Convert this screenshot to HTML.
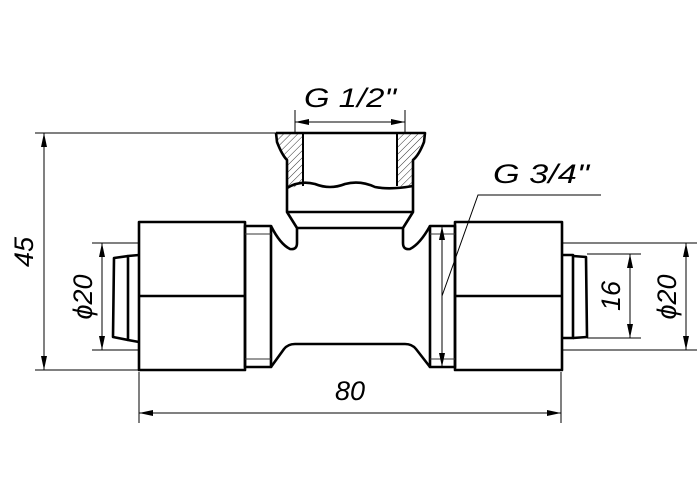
<!DOCTYPE html>
<html><head><style>html,body{margin:0;padding:0;background:#fff}svg{display:block}</style></head><body>
<svg width="700" height="500" viewBox="0 0 700 500" xmlns="http://www.w3.org/2000/svg">
<defs>
<pattern id="h" width="5" height="5" patternUnits="userSpaceOnUse" patternTransform="rotate(45)">
<line x1="0" y1="0" x2="0" y2="5" stroke="#000" stroke-width="0.8"/></pattern>
<marker id="a" viewBox="0 0 14 6" refX="14" refY="3" markerWidth="14" markerHeight="6" markerUnits="userSpaceOnUse" orient="auto-start-reverse"><path d="M0,0 L14,3 L0,6 Z" fill="#000"/></marker>
</defs>
<g fill="none" stroke="#000">
<!-- hatch -->
<path d="M276,133 L303,133 L303,186 L287,188 L287,160 Q281,155 280,146 Z" fill="url(#h)" stroke="none"/>
<path d="M425,133 L397,133 L397,186 L413,188 L413,160 Q419,155 420,146 Z" fill="url(#h)" stroke="none"/>
<g stroke-width="2.6" stroke-linejoin="round">
<!-- top branch outline -->
<path d="M276,133 L425,133 L424,142 Q419,155 413,160 L413,212 L403,228 L403,243 Q403,250 410,249 Q420,244 430,226"/>
<path d="M276,133 L277,142 Q282,155 287,160 L287,212 L297,228 L297,243 Q297,250 290,249 Q280,244 271,226"/>
<line x1="287" y1="212" x2="413" y2="212"/>
<line x1="297" y1="228" x2="403" y2="228"/>
<path d="M287,188 Q300,180 315,184 Q330,190 345,184 Q360,180 375,187 Q390,190 413,186"/>
<!-- body bottom -->
<path d="M271,367 L284,349 Q288,344 295,344 L405,344 Q412,344 416,349 L430,367"/>
<!-- sleeves -->
<rect x="245" y="226" width="26" height="141"/>
<rect x="430" y="226" width="25" height="141"/>
<!-- nuts -->
<rect x="139" y="222" width="106" height="148"/>
<line x1="139" y1="296" x2="245" y2="296"/>
<rect x="455" y="222" width="107" height="148"/>
<line x1="455" y1="296" x2="562" y2="296"/>
<!-- pipe ends left -->
<path d="M139,255 L128,256 L128,340 L139,342"/>
<path d="M128,256 L114,258 L113,337 L128,340"/>
<!-- right -->
<path d="M562,255 L573,255 L573,338 L562,338"/>
<path d="M573,256 L586,257 L587,337 L573,338"/>
</g>
<g stroke-width="2" >
<line x1="303" y1="133" x2="303" y2="186"/>
<line x1="397" y1="133" x2="397" y2="186"/>
</g>
<g stroke-width="0.9" stroke="#333">
<line x1="245" y1="234" x2="271" y2="234"/><line x1="245" y1="359" x2="271" y2="359"/>
<line x1="430" y1="234" x2="455" y2="234"/><line x1="430" y1="359" x2="455" y2="359"/>
</g>
<!-- dimensions -->
<g stroke-width="1">
<line x1="35" y1="133" x2="276" y2="133"/>
<line x1="35" y1="370" x2="139" y2="370"/>
<line x1="44" y1="133" x2="44" y2="370" marker-start="url(#a)" marker-end="url(#a)"/>
<line x1="92" y1="243" x2="139" y2="243"/>
<line x1="92" y1="350" x2="139" y2="350"/>
<line x1="102" y1="243" x2="102" y2="350" marker-start="url(#a)" marker-end="url(#a)"/>
<line x1="562" y1="243" x2="697" y2="243"/>
<line x1="562" y1="350" x2="697" y2="350"/>
<line x1="686" y1="243" x2="686" y2="350" marker-start="url(#a)" marker-end="url(#a)"/>
<line x1="587" y1="254" x2="641" y2="254"/>
<line x1="587" y1="338" x2="641" y2="338"/>
<line x1="630" y1="254" x2="630" y2="338" marker-start="url(#a)" marker-end="url(#a)"/>
<line x1="442" y1="226" x2="442" y2="367" marker-start="url(#a)" marker-end="url(#a)"/>
<polyline points="442,296 478,195 601,195"/>
<line x1="139" y1="372" x2="139" y2="423"/>
<line x1="561" y1="372" x2="561" y2="423"/>
<line x1="139" y1="413" x2="561" y2="413" marker-start="url(#a)" marker-end="url(#a)"/>
<line x1="295" y1="110" x2="295" y2="133"/>
<line x1="405" y1="110" x2="405" y2="133"/>
<line x1="295" y1="122" x2="405" y2="122" marker-start="url(#a)" marker-end="url(#a)"/>
</g>
</g>
<g font-family="Liberation Sans, sans-serif" font-style="italic" font-size="27" fill="#000" font-weight="normal">
<text x="350" y="107" text-anchor="middle" textLength="92" lengthAdjust="spacingAndGlyphs">G 1/2"</text>
<text x="541" y="183" text-anchor="middle" textLength="96" lengthAdjust="spacingAndGlyphs">G 3/4"</text>
<text x="350" y="400" text-anchor="middle">80</text>
<text transform="translate(33,252) rotate(-90)" text-anchor="middle">45</text>
<text transform="translate(92,297) rotate(-90)" text-anchor="middle">ϕ20</text>
<text transform="translate(620,296) rotate(-90)" text-anchor="middle">16</text>
<text transform="translate(676,297) rotate(-90)" text-anchor="middle">ϕ20</text>
</g>
</svg>
</body></html>
